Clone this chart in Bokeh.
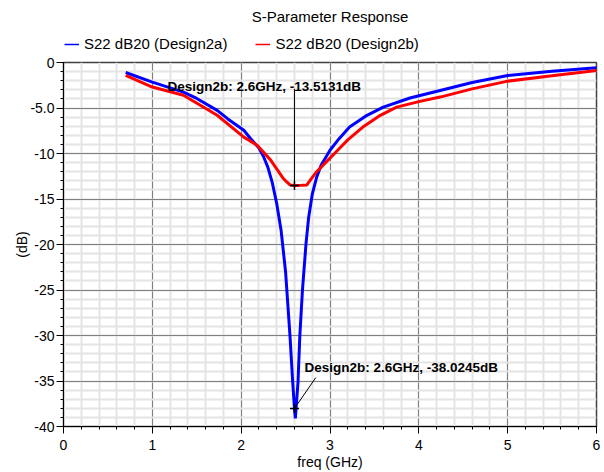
from bokeh.plotting import figure
from bokeh.layouts import column
from bokeh.models import (Legend, LegendItem, Range1d, Label, ColumnDataSource,
                          FixedTicker, Segment)
from bokeh.embed import file_html
from bokeh.resources import INLINE

# ---- data ----
freq_a = [0.7, 1.0, 1.35, 1.5, 1.73, 1.85, 2.03, 2.1, 2.2, 2.25, 2.3, 2.35, 2.4, 2.45,
          2.5, 2.55, 2.58, 2.6, 2.61, 2.64, 2.66, 2.69, 2.73, 2.76, 2.8, 2.85, 2.9,
          3.0, 3.1, 3.22, 3.4, 3.6, 3.9, 4.24, 4.6, 5.0, 5.5, 6.0]
db_a = [-1.1, -2.16, -3.25, -3.95, -5.26, -6.2, -7.45, -8.3, -9.4, -10.3, -11.5, -13.2,
        -15.5, -18.5, -23.0, -30.1, -35.1, -38.02, -39.1, -35.1, -30.1, -25.0, -19.9,
        -17.0, -14.5, -12.6, -11.3, -9.64, -8.4, -7.1, -5.9, -4.9, -3.9, -3.07, -2.2,
        -1.42, -0.95, -0.58]

freq_b = [0.7, 1.0, 1.35, 1.73, 2.03, 2.18, 2.33, 2.4, 2.475, 2.5, 2.55, 2.6, 2.68,
          2.74, 2.78, 2.85, 2.95, 3.07, 3.2, 3.37, 3.55, 3.75, 4.0, 4.24, 4.6, 5.0,
          5.5, 6.0]
db_b = [-1.42, -2.7, -3.6, -5.8, -8.2, -9.1, -10.7, -11.7, -12.75, -13.0, -13.45,
        -13.51, -13.5, -13.45, -12.9, -12.0, -11.0, -9.8, -8.5, -7.1, -5.9, -4.9,
        -4.3, -3.8, -2.9, -2.05, -1.45, -0.88]

series_names = ["S22 dB20 (Design2a)", "S22 dB20 (Design2b)"]
series_colors = ["#0000ff", "#ff0000"]

marker_freq = [2.6, 2.6]
marker_db = [-13.5131, -38.0245]
marker_text = ["Design2b: 2.6GHz, -13.5131dB", "Design2b: 2.6GHz, -38.0245dB"]

x_ticks = [0, 1, 2, 3, 4, 5, 6]
x_tick_labels = ["0", "1", "2", "3", "4", "5", "6"]
y_ticks = [0, -5, -10, -15, -20, -25, -30, -35, -40]
y_tick_labels = ["0", "-5.0", "-10", "-15", "-20", "-25", "-30", "-35", "-40"]

FONT = "Liberation Sans"

# ---------- header: title + legend ----------
head = figure(width=604, height=55, x_range=Range1d(0, 1), y_range=Range1d(0, 1),
              min_border_left=0, min_border_right=0, min_border_top=0, min_border_bottom=0,
              output_backend="svg", toolbar_location=None, title="S-Parameter Response",
              background_fill_color="white", border_fill_color="white")
head.axis.visible = False
head.grid.visible = False
head.outline_line_color = None
head.title.align = "center"
head.title.text_font = FONT
head.title.text_font_size = "15px"
head.title.text_font_style = "normal"
head.title.text_color = "black"
head.title.offset = 38

proxy_a = head.line(x=[-10, -9], y=[-5, -5], line_color=series_colors[0], line_width=1.5)
proxy_b = head.line(x=[-10, -9], y=[-5, -5], line_color=series_colors[1], line_width=1.5)
legend = Legend(items=[LegendItem(label=series_names[0], renderers=[proxy_a]),
                       LegendItem(label=series_names[1], renderers=[proxy_b])],
                orientation="horizontal", location=(1, 3),
                label_text_font=FONT, label_text_font_size="15px", label_text_color="black",
                glyph_width=15, glyph_height=16, label_standoff=5, spacing=28,
                padding=0, margin=0, border_line_color=None, background_fill_alpha=0)
head.add_layout(legend, "center")

# ---------- main plot ----------
p = figure(width=604, height=417,
           min_border_left=63, min_border_right=8, min_border_top=7, min_border_bottom=45,
           x_range=Range1d(0, 6), y_range=Range1d(-40, 0),
           output_backend="svg", toolbar_location=None,
           background_fill_color="white", border_fill_color="white")

for g in (p.xgrid[0], p.ygrid[0]):
    g.grid_line_color = "#808080"
    g.grid_line_width = 1
    g.minor_grid_line_color = "#e4e4e4"
    g.minor_grid_line_width = 2
p.outline_line_color = "#404040"
p.outline_line_width = 1.5

p.xaxis.ticker = FixedTicker(ticks=x_ticks, minor_ticks=[i * 0.2 for i in range(31)])
p.yaxis.ticker = FixedTicker(ticks=y_ticks, minor_ticks=[-i for i in range(41)])
p.xaxis.major_label_overrides = dict(zip(x_ticks, x_tick_labels))
p.yaxis.major_label_overrides = dict(zip(y_ticks, y_tick_labels))
p.xaxis.axis_label = "freq (GHz)"
p.yaxis.axis_label = "(dB)"
for ax in (p.xaxis[0], p.yaxis[0]):
    ax.axis_line_color = "black"
    ax.major_tick_line_color = "black"
    ax.minor_tick_line_color = "black"
    ax.major_tick_out = 7
    ax.major_tick_in = 0
    ax.minor_tick_out = 3
    ax.minor_tick_in = 0
    ax.major_label_text_font = FONT
    ax.major_label_text_font_size = "14px"
    ax.major_label_text_color = "black"
    ax.axis_label_text_font = FONT
    ax.axis_label_text_font_size = "14px"
    ax.axis_label_text_font_style = "normal"
    ax.axis_label_text_color = "black"
p.xaxis.major_label_standoff = 6
p.yaxis.major_label_standoff = 2
p.xaxis.axis_label_standoff = 1
p.yaxis.axis_label_standoff = -3

p.line(freq_a, db_a, line_color=series_colors[0], line_width=3)
p.line(freq_b, db_b, line_color=series_colors[1], line_width=3)

p.scatter(marker_freq, marker_db, marker="cross", size=9, line_color="black", line_width=1.5)

lead = ColumnDataSource(dict(x0=[marker_freq[0], marker_freq[1]],
                             y0=[marker_db[0], marker_db[1]],
                             x1=[marker_freq[0], marker_freq[1] + 0.24],
                             y1=[-2.9, marker_db[1] + 3.4]))
p.add_glyph(lead, Segment(x0="x0", y0="y0", x1="x1", y1="y1", line_color="black", line_width=1))

offsets = [(-127, 98.6), (10, 41)]
for fx, dbv, txt, (xo, yo) in zip(marker_freq, marker_db, marker_text, offsets):
    p.add_layout(Label(x=fx, y=dbv, x_offset=xo, y_offset=yo, text=txt,
                       text_font=FONT, text_font_size="13.5px", text_font_style="bold",
                       text_color="black", text_baseline="middle", text_align="left"))

layout = column(head, p, spacing=0)
open("out.html", "w").write(file_html(layout, INLINE))
